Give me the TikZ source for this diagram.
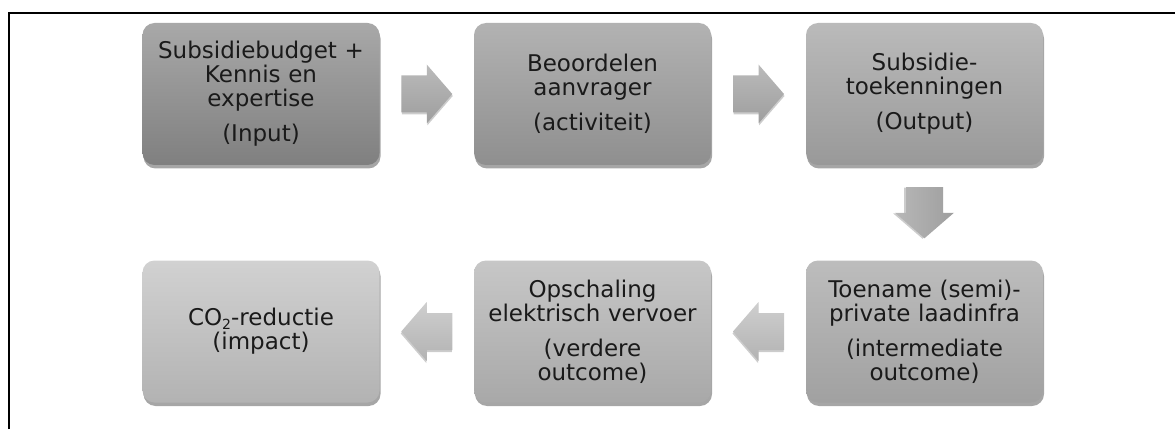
\documentclass[tikz,border=0pt]{standalone}
\usepackage{fontspec}
\setmainfont{DejaVu Sans}
\usetikzlibrary{shadows,calc}
\definecolor{txt}{HTML}{1A1A1A}
\tikzset{
  box/.style={rounded corners=12pt, minimum width=237pt, minimum height=142pt,
    text width=230pt, align=center, text=txt, inner sep=0pt,
    font=\fontsize{23}{24}\selectfont,
    drop shadow={shadow xshift=1pt, shadow yshift=-3.5pt, opacity=0.35, fill=black}},
  arrowshadow/.style={drop shadow={shadow xshift=0.5pt, shadow yshift=-2pt, opacity=0.2, fill=black}},
}
\newcommand{\blockarrowpath}{(-25.5,-18.5) -- (0,-18.5) -- (0,-29.5) -- (25.5,0) -- (0,29.5) -- (0,18.5) -- (-25.5,18.5) -- cycle}
\begin{document}
\begin{tikzpicture}[x=1pt,y=1pt]
\useasboundingbox (0,0) rectangle (1175,429);
\draw[line width=2.6pt] (9,0) -- (9,416) -- (1175,416);

\node[box, top color=black!34, bottom color=black!50] (b1) at (261,335)
  {Subsidiebudget +\\Kennis en\\expertise\\[11pt](Input)};
\node[box, top color=black!30, bottom color=black!44] (b2) at (592.5,335)
  {Beoordelen\\aanvrager\\[11pt](activiteit)};
\node[box, top color=black!27, bottom color=black!40] (b3) at (924.5,335)
  {Subsidie-\\toekenningen\\[11pt](Output)};
\node[box, top color=black!26, bottom color=black!37] (b6) at (924.5,97.5)
  {Toename (semi)-\\private laadinfra\\[11pt](intermediate\\outcome)};
\node[box, top color=black!22, bottom color=black!34] (b5) at (592.5,97.5)
  {Opschaling\\elektrisch vervoer\\[11pt](verdere\\outcome)};
\node[box, top color=black!18, bottom color=black!30] (b4) at (261,97.5)
  {CO{\fontsize{14}{14}\selectfont\raisebox{-4pt}{2}}-reductie\\(impact)};

\coordinate (a1) at ($(b1.east)!0.5!(b2.west)$);
\coordinate (a2) at ($(b2.east)!0.5!(b3.west)$);
\coordinate (a3) at ($(b3.south)!0.5!(b6.north)$);
\coordinate (a4) at ($(b6.west)!0.5!(b5.east)$);
\coordinate (a5) at ($(b5.west)!0.5!(b4.east)$);

\begin{scope}[shift={(a1)}]
  \path[arrowshadow, top color=black!27, bottom color=black!38] \blockarrowpath;
\end{scope}
\begin{scope}[shift={(a2)}]
  \path[arrowshadow, top color=black!27, bottom color=black!38] \blockarrowpath;
\end{scope}
\begin{scope}[shift={(a3)}, rotate=-90]
  \path[drop shadow={shadow xshift=-2pt, shadow yshift=-0.5pt, opacity=0.2, fill=black},
    left color=black!28, right color=black!38] \blockarrowpath;
\end{scope}
\begin{scope}[shift={(a4)}, xscale=-1]
  \path[drop shadow={shadow xshift=-0.5pt, shadow yshift=-2pt, opacity=0.2, fill=black},
    top color=black!19, bottom color=black!30] \blockarrowpath;
\end{scope}
\begin{scope}[shift={(a5)}, xscale=-1]
  \path[drop shadow={shadow xshift=-0.5pt, shadow yshift=-2pt, opacity=0.2, fill=black},
    top color=black!19, bottom color=black!30] \blockarrowpath;
\end{scope}
\end{tikzpicture}
\end{document}
